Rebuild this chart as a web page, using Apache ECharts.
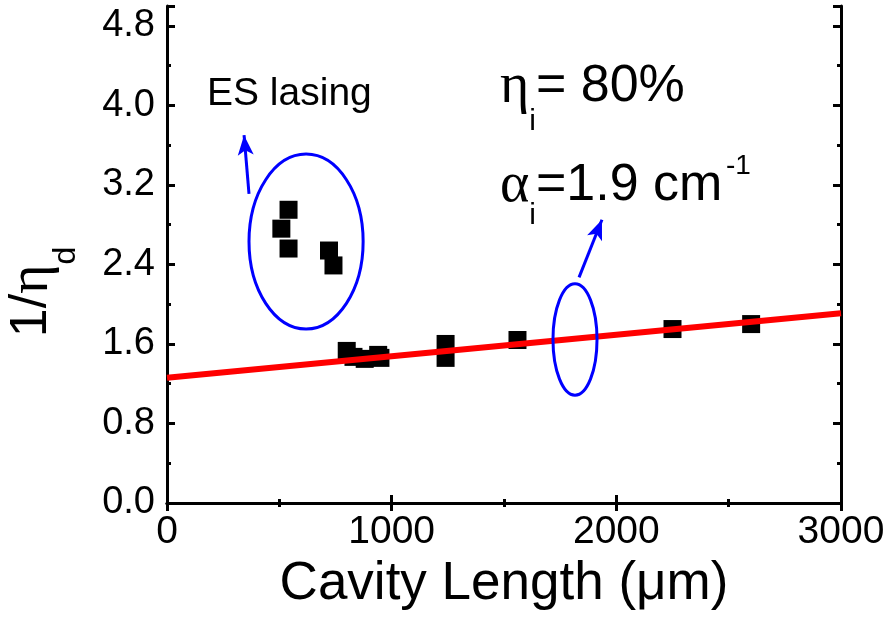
<!DOCTYPE html>
<html>
<head>
<meta charset="utf-8">
<script src="https://cdn.jsdelivr.net/npm/echarts@6/dist/echarts.min.js"></script>
<style>
  html, body { margin: 0; padding: 0; background: #fff; }
  #main { width: 891px; height: 619px; }
</style>
</head>
<body>
<div id="main"></div>
<script>
// cavity length (um) and 1/eta_d
var esLength = [541, 509, 541, 721, 741];
var esInv = [2.95, 2.76, 2.56, 2.54, 2.39];

var gsLength = [800, 830, 880, 940, 950, 1240, 1240, 1560, 2250, 2600];
var gsInv = [1.53, 1.47, 1.45, 1.49, 1.46, 1.60, 1.46, 1.64, 1.75, 1.80];

// linear fit
var fitLength = [0, 3000];
var fitInv = [1.26, 1.91];

// ellipses: centre x, centre y, half width, half height (data units)
var ellipseCx = [619, 1816];
var ellipseCy = [2.63, 1.645];
var ellipseRx = [254, 98];
var ellipseRy = [0.88, 0.56];

// arrows: from -> to (data units)
var arrowFrom = [[365, 3.11], [1834, 2.27]];
var arrowTo = [[343, 3.70], [1936, 2.85]];

var FONT = "'Liberation Sans', Arial, Helvetica, sans-serif";
var GREEK = "'Liberation Serif', 'Times New Roman', serif";

var chart = echarts.init(document.getElementById('main'), null, { renderer: 'canvas' });

function pairs(xs, ys) {
  var out = [];
  for (var i = 0; i < xs.length; i++) out.push([xs[i], ys[i]]);
  return out;
}

var ellipseData = [];
for (var i = 0; i < ellipseCx.length; i++) {
  ellipseData.push([ellipseCx[i], ellipseCy[i], ellipseRx[i], ellipseRy[i]]);
}

var arrowLines = [];
for (var j = 0; j < arrowFrom.length; j++) {
  arrowLines.push([{ coord: arrowFrom[j] }, { coord: arrowTo[j] }]);
}

var axisLine = { show: true, lineStyle: { color: '#000', width: 3 } };

function xAx(pos, labels) {
  return {
    type: 'value', position: pos, min: 0, max: 3000, interval: 1000,
    axisLine: axisLine,
    axisTick: { show: true, inside: true, length: 8, lineStyle: { color: '#000', width: 3 } },
    minorTick: { show: true, splitNumber: 2, length: 4, lineStyle: { color: '#000', width: 3 } },
    axisLabel: {
      show: labels, color: '#000', fontSize: 39, fontFamily: FONT, margin: 10,
      formatter: function (v) { return String(v); }
    },
    splitLine: { show: false }
  };
}

function yAx(pos, step, len, labels) {
  return {
    type: 'value', position: pos, min: 0, max: 5, interval: step,
    axisLine: len === 8 ? axisLine : { show: false },
    axisTick: { show: true, inside: true, length: len, lineStyle: { color: '#000', width: 3 } },
    axisLabel: {
      show: labels, color: '#000', fontSize: 38, fontFamily: FONT, margin: 12,
      formatter: function (v) {
        return Math.round(v * 10) % 8 === 0 ? v.toFixed(1) : '';
      }
    },
    splitLine: { show: false }
  };
}

var xTitle = xAx('bottom', true);
xTitle.name = 'Cavity Length (\u03bcm)';
xTitle.nameLocation = 'middle';
xTitle.nameGap = 55;
xTitle.nameTextStyle = { color: '#000', fontSize: 53, fontFamily: FONT };

var option = {
  backgroundColor: '#fff',
  animation: false,
  grid: { left: 167, right: 50, top: 6, bottom: 116, containLabel: false },
  xAxis: [xTitle, xAx('top', false)],
  yAxis: [
    yAx('left', 0.8, 8, true),
    yAx('left', 0.4, 4, false),
    yAx('right', 0.8, 8, false),
    yAx('right', 0.4, 4, false)
  ],
  series: [
    {
      name: 'fit', type: 'line', data: pairs(fitLength, fitInv),
      showSymbol: false, symbol: 'none',
      lineStyle: { color: '#ff0000', width: 6 }, z: 3
    },
    {
      name: 'ES', type: 'scatter', data: pairs(esLength, esInv),
      symbol: 'rect', symbolSize: 18, itemStyle: { color: '#000', opacity: 1 }, z: 4
    },
    {
      name: 'GS', type: 'scatter', data: pairs(gsLength, gsInv),
      symbol: 'rect', symbolSize: 18, itemStyle: { color: '#000', opacity: 1 }, z: 2
    },
    {
      name: 'ellipses', type: 'custom', data: ellipseData,
      encode: { x: 0, y: 1 },
      renderItem: function (params, api) {
        var c = api.coord([api.value(0), api.value(1)]);
        var s = api.size([api.value(2), api.value(3)]);
        return {
          type: 'ellipse',
          shape: { cx: c[0], cy: c[1], rx: s[0], ry: s[1] },
          style: { fill: 'none', stroke: '#0000ff', lineWidth: 3 }
        };
      },
      z: 5
    },
    {
      name: 'arrows', type: 'line', data: [],
      markLine: {
        silent: true, animation: false,
        symbol: ['none', 'arrow'], symbolSize: [12, 20],
        label: { show: false },
        lineStyle: { color: '#0000ff', width: 3, type: 'solid' },
        emphasis: { disabled: true },
        data: arrowLines
      },
      z: 5
    }
  ],
  graphic: [
    {
      type: 'text', x: 32, y: 292, rotation: Math.PI / 2,
      style: {
        text: '{a|1/}{g|\u03b7}{s|d}', align: 'center', verticalAlign: 'middle', fill: '#000',
        rich: {
          a: { fontSize: 52, fontFamily: FONT, lineHeight: 100, fill: '#000' },
          g: { fontSize: 56, fontFamily: GREEK, lineHeight: 100, fill: '#000' },
          s: { fontSize: 32, fontFamily: FONT, lineHeight: 42, verticalAlign: 'bottom', fill: '#000' }
        }
      }
    },
    {
      type: 'text', x: 207, y: 94,
      style: { text: 'ES lasing', fontSize: 39, fontFamily: FONT, fill: '#000', align: 'left', verticalAlign: 'middle' }
    },
    {
      type: 'text', x: 500, y: 87,
      style: {
        text: '{g|\u03b7}{s|i}{a|= 80%}', align: 'left', verticalAlign: 'middle', fill: '#000',
        rich: {
          a: { fontSize: 52, fontFamily: FONT, lineHeight: 100, fill: '#000' },
          g: { fontSize: 56, fontFamily: GREEK, lineHeight: 100, fill: '#000' },
          s: { fontSize: 30, fontFamily: FONT, lineHeight: 39, verticalAlign: 'bottom', fill: '#000' }
        }
      }
    },
    {
      type: 'text', x: 500, y: 186,
      style: {
        text: '{g|\u03b1}{s|i}{a|=1.9 cm}', align: 'left', verticalAlign: 'middle', fill: '#000',
        rich: {
          a: { fontSize: 52, fontFamily: FONT, lineHeight: 90, fill: '#000' },
          g: { fontSize: 56, fontFamily: GREEK, lineHeight: 90, fill: '#000' },
          s: { fontSize: 30, fontFamily: FONT, lineHeight: 37, verticalAlign: 'bottom', fill: '#000' }
        }
      }
    },
    {
      type: 'text', x: 726, y: 166,
      style: { text: '-1', fontSize: 28, fontFamily: FONT, fill: '#000', align: 'left', verticalAlign: 'middle' }
    }
  ]
};

chart.setOption(option);
</script>
</body>
</html>
